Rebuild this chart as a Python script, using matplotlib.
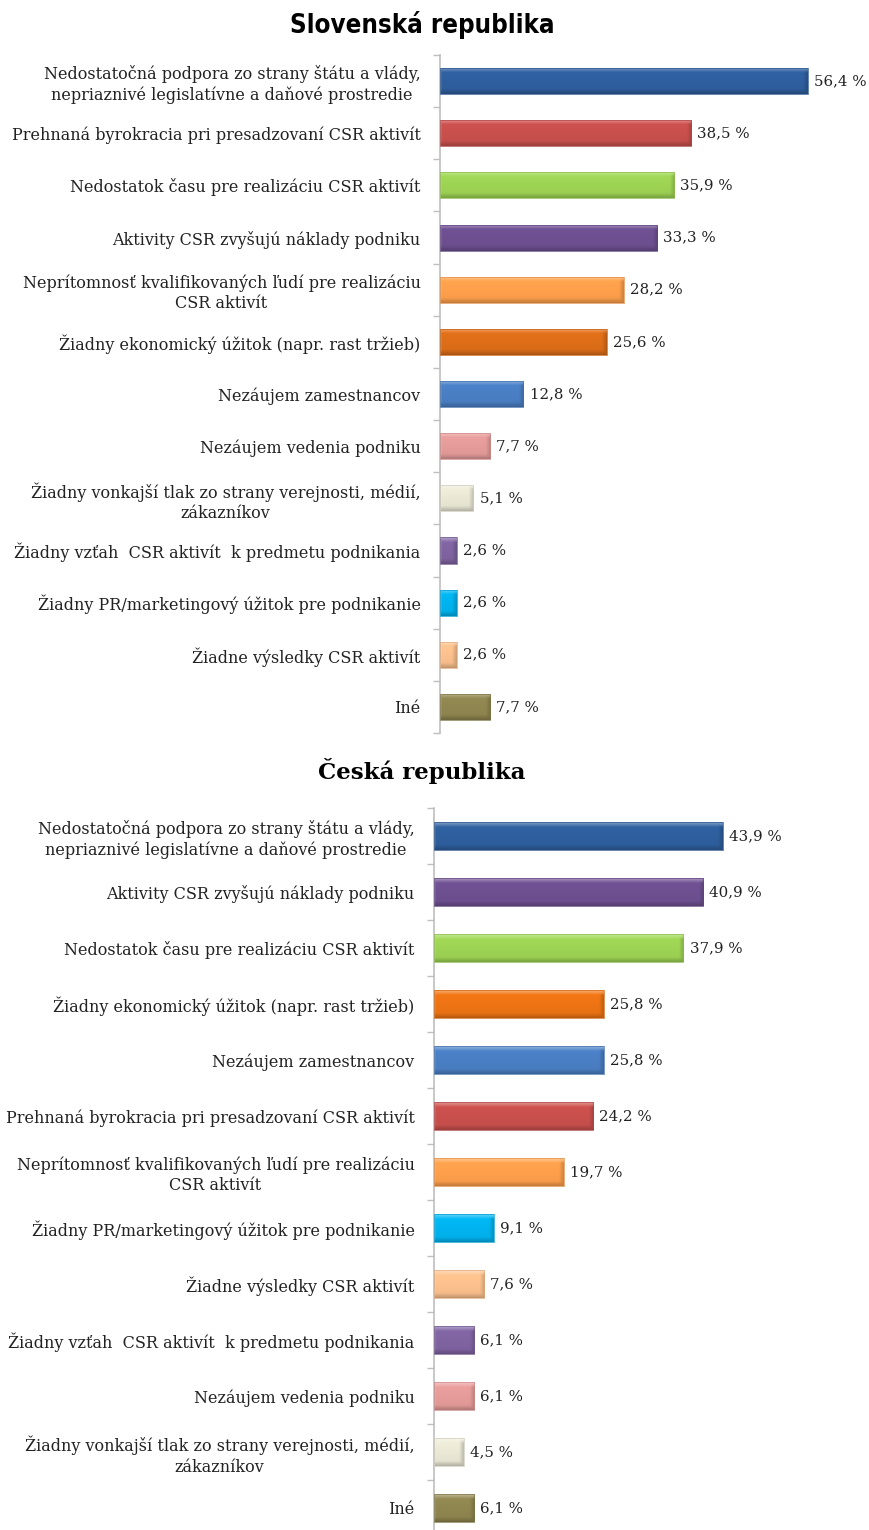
import numpy as np
import matplotlib
matplotlib.use("Agg")
import matplotlib.pyplot as plt
from matplotlib.colors import to_rgb
from matplotlib.ticker import FixedLocator, NullLocator

# ---------------- data ----------------
sk_title = "Slovenská republika"
sk_labels = [
    "Nedostatočná podpora zo strany štátu a vlády,\nnepriaznivé legislatívne a daňové prostredie",
    "Prehnaná byrokracia pri presadzovaní CSR aktivít",
    "Nedostatok času pre realizáciu CSR aktivít",
    "Aktivity CSR zvyšujú náklady podniku",
    "Neprítomnosť kvalifikovaných ľudí pre realizáciu\nCSR aktivít",
    "Žiadny ekonomický úžitok (napr. rast tržieb)",
    "Nezáujem zamestnancov",
    "Nezáujem vedenia podniku",
    "Žiadny vonkajší tlak zo strany verejnosti, médií,\nzákazníkov",
    "Žiadny vzťah  CSR aktivít  k predmetu podnikania",
    "Žiadny PR/marketingový úžitok pre podnikanie",
    "Žiadne výsledky CSR aktivít",
    "Iné",
]
sk_values = [56.4, 38.5, 35.9, 33.3, 28.2, 25.6, 12.8, 7.7, 5.1, 2.6, 2.6, 2.6, 7.7]
sk_value_text = ["56,4 %", "38,5 %", "35,9 %", "33,3 %", "28,2 %", "25,6 %", "12,8 %",
                 "7,7 %", "5,1 %", "2,6 %", "2,6 %", "2,6 %", "7,7 %"]
sk_colors = ["#2F5F9E", "#C9504D", "#9ED454", "#6E5091", "#FFA04C", "#DE6E18",
             "#4A7FC4", "#E59C9A", "#EBE8D6", "#8064A2", "#00B4F0", "#FCC18E", "#908650"]

cz_title = "Česká republika"
cz_labels = [
    "Nedostatočná podpora zo strany štátu a vlády,\nnepriaznivé legislatívne a daňové prostredie",
    "Aktivity CSR zvyšujú náklady podniku",
    "Nedostatok času pre realizáciu CSR aktivít",
    "Žiadny ekonomický úžitok (napr. rast tržieb)",
    "Nezáujem zamestnancov",
    "Prehnaná byrokracia pri presadzovaní CSR aktivít",
    "Neprítomnosť kvalifikovaných ľudí pre realizáciu\nCSR aktivít",
    "Žiadny PR/marketingový úžitok pre podnikanie",
    "Žiadne výsledky CSR aktivít",
    "Žiadny vzťah  CSR aktivít  k predmetu podnikania",
    "Nezáujem vedenia podniku",
    "Žiadny vonkajší tlak zo strany verejnosti, médií,\nzákazníkov",
    "Iné",
]
cz_values = [43.9, 40.9, 37.9, 25.8, 25.8, 24.2, 19.7, 9.1, 7.6, 6.1, 6.1, 4.5, 6.1]
cz_value_text = ["43,9 %", "40,9 %", "37,9 %", "25,8 %", "25,8 %", "24,2 %", "19,7 %",
                 "9,1 %", "7,6 %", "6,1 %", "6,1 %", "4,5 %", "6,1 %"]
cz_colors = ["#2F5F9E", "#6E5091", "#9ED454", "#EE7414", "#4A7FC4", "#C9504D", "#FFA04C",
             "#00B4F0", "#FCC18E", "#8064A2", "#E59C9A", "#EBE8D6", "#908650"]

W, H = 870, 1530
fig = plt.figure(figsize=(W / 100, H / 100), dpi=100)

SERIF = ["DejaVu Serif"]
LBL_SIZE = 11.5
VAL_SIZE = 10.8


def mix(c, t, f):
    c = np.array(to_rgb(c)); t = np.array(to_rgb(t))
    return c + (t - c) * f


def bevel_bar(ax, patch, color):
    x0, y0 = patch.get_x(), patch.get_y()
    w, h = patch.get_width(), patch.get_height()
    p0 = ax.transData.transform((x0, y0))
    p1 = ax.transData.transform((x0 + w, y0 + h))
    wp = max(2, int(round(abs(p1[0] - p0[0]))))
    hp = max(2, int(round(abs(p1[1] - p0[1]))))
    base = np.array(to_rgb(color))
    lighter = mix(color, "white", 0.5)
    dark = mix(color, "black", 0.28)
    yy = np.arange(hp)[:, None] + 0.5
    xx = np.arange(wp)[None, :] + 0.5
    b = 5.0
    top = np.clip(1 - yy / b, 0, 1)
    bot = np.clip(1 - (hp - yy) / b, 0, 1)
    right = np.clip(1 - (wp - xx) / b, 0, 1)
    left = np.clip(1 - xx / 2.5, 0, 1)
    img = np.tile(base, (hp, wp, 1)).astype(float)
    shade = (yy / hp - 0.5)[..., None] * 0.08
    img = img - shade * base
    fr = (right * (1 - top) * (1 - bot))[..., None]
    img = img + (dark - img) * fr * 0.7
    fl = (left * (1 - top) * (1 - bot))[..., None]
    img = img + (lighter - img) * fl * 0.4
    ft = np.broadcast_to(top, (hp, wp))[..., None]
    img = img + (lighter - img) * ft * 0.85
    fb = np.broadcast_to(bot, (hp, wp))[..., None]
    img = img + (dark - img) * fb * 0.85
    img = np.clip(img, 0, 1)
    im = ax.imshow(img, extent=(x0, x0 + w, y0 + h, y0), aspect="auto",
                   interpolation="bilinear", zorder=2)
    im.set_clip_path(patch)
    patch.set_facecolor("none")
    patch.set_edgecolor(mix(color, "black", 0.12))
    patch.set_linewidth(0.5)
    patch.set_zorder(3)


def draw_panel(rect, title, labels, values, vtexts, colors, xmax, title_y, title_font):
    ax = fig.add_axes(rect)
    n = len(labels)
    pos = np.arange(n)
    bars = ax.barh(pos, values, height=0.5, color=colors)
    ax.set_ylim(n - 0.5, -0.5)
    ax.set_xlim(0, xmax)
    for p, c in zip(bars.patches, colors):
        bevel_bar(ax, p, c)
    ax.set_ylim(n - 0.5, -0.5)
    ax.set_xlim(0, xmax)
    for v, t, y in zip(values, vtexts, pos):
        ax.annotate(t, (v, y), xytext=(4.5, 0), textcoords="offset points",
                    va="center", ha="left", fontsize=VAL_SIZE, family=SERIF,
                    color="#222222", annotation_clip=False)
    ax.set_yticks(pos)
    ax.set_yticklabels(labels, fontsize=LBL_SIZE, family=SERIF, color="#222222",
                       multialignment="center", linespacing=1.25)
    ax.yaxis.set_minor_locator(FixedLocator(np.arange(n + 1) - 0.5))
    ax.tick_params(axis="y", which="major", length=0, pad=14)
    ax.tick_params(axis="y", which="minor", length=5, color="#BFBFBF", width=1)
    ax.xaxis.set_major_locator(NullLocator())
    for s in ("top", "right", "bottom"):
        ax.spines[s].set_visible(False)
    ax.spines["left"].set_color("#BFBFBF")
    ax.spines["left"].set_linewidth(1.2)
    fig.text(0.485, title_y, title, ha="center", va="center", **title_font)
    return ax


px = 6.52  # pixels per percent
sk_left = 440
sk_rect = (sk_left / W, 1 - 733 / H, (W - sk_left - 10) / W, (733 - 55) / H)
draw_panel(sk_rect, sk_title, sk_labels, sk_values, sk_value_text, sk_colors,
           (W - sk_left - 10) / px, 1 - 25 / H,
           dict(fontsize=18.5, fontweight="bold", fontstretch="condensed",
                family=["DejaVu Sans"]))

cz_left = 434
cz_rect = (cz_left / W, 1 - 1536 / H, (W - cz_left - 10) / W, (1536 - 808) / H)
draw_panel(cz_rect, cz_title, cz_labels, cz_values, cz_value_text, cz_colors,
           (W - cz_left - 10) / 6.58, 1 - 771 / H,
           dict(fontsize=16.5, fontweight="bold", family=["DejaVu Serif"]))

fig.savefig("out.png", dpi=100)
